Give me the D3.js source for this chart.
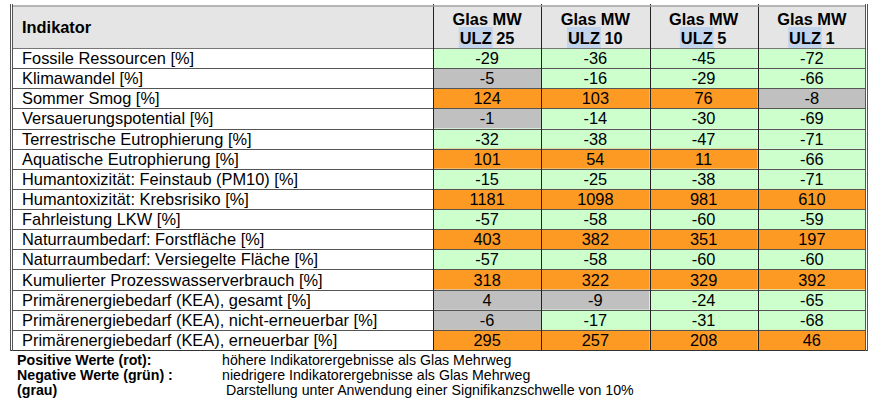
<!DOCTYPE html>
<html>
<head>
<meta charset="utf-8">
<script src="https://cdn.jsdelivr.net/npm/d3@7"></script>
<style>
  body { margin: 0; background: #fff; }
  text { font-family: "Liberation Sans", Arial, sans-serif; fill: #000; }
  .narrow { font-family: "Liberation Sans Narrow", "Arial Narrow", "Liberation Sans", sans-serif; }
</style>
</head>
<body>
<div id="chart"></div>
<script>
(function () {
    var width = 881,
        height = 408;

    // table content
    var indicators = [
        "Fossile Ressourcen [%]",
        "Klimawandel [%]",
        "Sommer Smog [%]",
        "Versauerungspotential [%]",
        "Terrestrische Eutrophierung [%]",
        "Aquatische Eutrophierung [%]",
        "Humantoxizität: Feinstaub (PM10) [%]",
        "Humantoxizität: Krebsrisiko [%]",
        "Fahrleistung LKW [%]",
        "Naturraumbedarf: Forstfläche [%]",
        "Naturraumbedarf: Versiegelte Fläche [%]",
        "Kumulierter Prozesswasserverbrauch [%]",
        "Primärenergiebedarf (KEA), gesamt [%]",
        "Primärenergiebedarf (KEA), nicht-erneuerbar [%]",
        "Primärenergiebedarf (KEA), erneuerbar [%]"
    ];
    var seriesTop = ["Glas MW", "Glas MW", "Glas MW", "Glas MW"];
    var seriesUlz = ["25", "10", "5", "1"];

    var ulz25 = [-29, -5, 124, -1, -32, 101, -15, 1181, -57, 403, -57, 318, 4, -6, 295];
    var ulz10 = [-36, -16, 103, -14, -38, 54, -25, 1098, -58, 382, -58, 322, -9, -17, 257];
    var ulz5  = [-45, -29, 76, -30, -47, 11, -38, 981, -60, 351, -60, 329, -24, -31, 208];
    var ulz1  = [-72, -66, -8, -69, -71, -66, -71, 610, -59, 197, -60, 392, -65, -68, 46];
    var columns = [ulz25, ulz10, ulz5, ulz1];

    var legendKeys = ["Positive Werte (rot):", "Negative Werte (grün) :", "(grau)"];
    var legendTexts = [
        "höhere Indikatorergebnisse als Glas Mehrweg",
        "niedrigere Indikatorergebnisse als Glas Mehrweg",
        " Darstellung unter Anwendung einer Signifikanzschwelle von 10%"
    ];

    var svg = d3.select("#chart")
        .append("svg")
        .attr("width", width)
        .attr("height", height);

    var left = 12.5, right = 866, top = 6, headBottom = 48, bottom = 350;
    var labelRight = 433;
    var fs = 16.4;

    var x = d3.scaleBand().domain(d3.range(columns.length)).range([labelRight, right]);
    var y = d3.scaleBand().domain(d3.range(indicators.length)).range([headBottom, bottom]);

    // gray below 10% significance threshold, orange positive, green negative
    function cellColor(v) {
        if (Math.abs(v) < 10) return "#c0c0c0";
        return v > 0 ? "#fd9a24" : "#ccffcc";
    }

    // header background
    svg.append("rect")
        .attr("x", left).attr("y", top)
        .attr("width", right - left).attr("height", headBottom - top)
        .attr("fill", "#e5e5e5");

    // cells
    var cells = [];
    columns.forEach(function (col, ci) {
        col.forEach(function (v, ri) { cells.push({c: ci, r: ri, v: v}); });
    });

    svg.selectAll(".cell")
        .data(cells)
        .enter().append("rect")
        .attr("class", "cell")
        .attr("x", function (d) { return x(d.c); })
        .attr("y", function (d) { return y(d.r); })
        .attr("width", x.bandwidth())
        .attr("height", y.bandwidth())
        .attr("fill", function (d) { return cellColor(d.v); });

    svg.selectAll(".val")
        .data(cells)
        .enter().append("text")
        .attr("class", "val")
        .attr("x", function (d) { return x(d.c) + x.bandwidth() / 2; })
        .attr("y", function (d) { return y(d.r) + y.bandwidth() / 2 + 6; })
        .attr("text-anchor", "middle")
        .attr("font-size", fs)
        .text(function (d) { return d.v; });

    svg.selectAll(".lab")
        .data(indicators)
        .enter().append("text")
        .attr("class", "lab")
        .attr("x", 22)
        .attr("y", function (d, i) { return y(i) + y.bandwidth() / 2 + 6; })
        .attr("font-size", fs)
        .text(function (d) { return d; });

    // header texts
    svg.append("text")
        .attr("x", 22).attr("y", 33)
        .attr("font-size", fs)
        .attr("font-weight", "bold")
        .text("Indikator");

    seriesTop.forEach(function (s, i) {
        var cx = x(i) + x.bandwidth() / 2;
        svg.append("text")
            .attr("x", cx).attr("y", 25)
            .attr("text-anchor", "middle")
            .attr("font-size", fs)
            .attr("font-weight", "bold")
            .text(s);

        var hl = svg.append("rect").attr("fill", "#c3d5ec");
        var t = svg.append("text")
            .attr("x", cx).attr("y", 43.5)
            .attr("text-anchor", "middle")
            .attr("font-size", fs)
            .attr("font-weight", "bold");
        t.append("tspan").text("ULZ");
        t.append("tspan").text(" " + seriesUlz[i]);
        var n = t.node();
        var x0 = n.getStartPositionOfChar(0).x;
        var w = n.getSubStringLength(0, 3);
        hl.attr("x", x0 - 1).attr("y", 27).attr("width", w + 2).attr("height", headBottom - 27);
    });

    // grid lines
    var g = svg.append("g").attr("stroke", "#3a3a3a").attr("stroke-width", 1).attr("fill", "none");
    d3.range(indicators.length).forEach(function (i) {
        if (i === 0) return;
        g.append("line")
            .attr("x1", left).attr("x2", right)
            .attr("y1", Math.round(y(i)) + 0.5).attr("y2", Math.round(y(i)) + 0.5)
            .attr("stroke", "#555");
    });
    g.append("line")
        .attr("x1", left).attr("x2", right)
        .attr("y1", headBottom + 0.5).attr("y2", headBottom + 0.5)
        .attr("stroke", "#777");
    d3.range(columns.length).forEach(function (i) {
        g.append("line")
            .attr("x1", Math.round(x(i)) + 0.5).attr("x2", Math.round(x(i)) + 0.5)
            .attr("y1", top - 2).attr("y2", bottom)
            .attr("stroke", "#222");
    });
    // top line
    g.append("line")
        .attr("x1", left).attr("x2", right)
        .attr("y1", top).attr("y2", top)
        .attr("stroke", "#a0a0a0").attr("stroke-width", 1.5);
    // bottom line
    g.append("line")
        .attr("x1", 10).attr("x2", 868)
        .attr("y1", bottom + 0.5).attr("y2", bottom + 0.5)
        .attr("stroke", "#333").attr("stroke-width", 1.2);
    // double outer verticals
    [10.5, 12.5, 865.5, 867.5].forEach(function (xx) {
        g.append("line")
            .attr("x1", xx).attr("x2", xx)
            .attr("y1", 4).attr("y2", bottom + 1)
            .attr("stroke", "#555");
    });

    // footer legend
    svg.selectAll(".key")
        .data(legendKeys)
        .enter().append("text")
        .attr("class", "key narrow")
        .attr("x", 17)
        .attr("y", function (d, i) { return 365 + i * 15; })
        .attr("font-size", 14.2)
        .attr("font-weight", "bold")
        .text(function (d) { return d; });

    svg.selectAll(".desc")
        .data(legendTexts)
        .enter().append("text")
        .attr("class", "desc narrow")
        .attr("x", 222)
        .attr("y", function (d, i) { return 365 + i * 15; })
        .attr("font-size", 14.2)
        .attr("xml:space", "preserve")
        .style("white-space", "pre")
        .text(function (d) { return d; });
})();
</script>
</body>
</html>
